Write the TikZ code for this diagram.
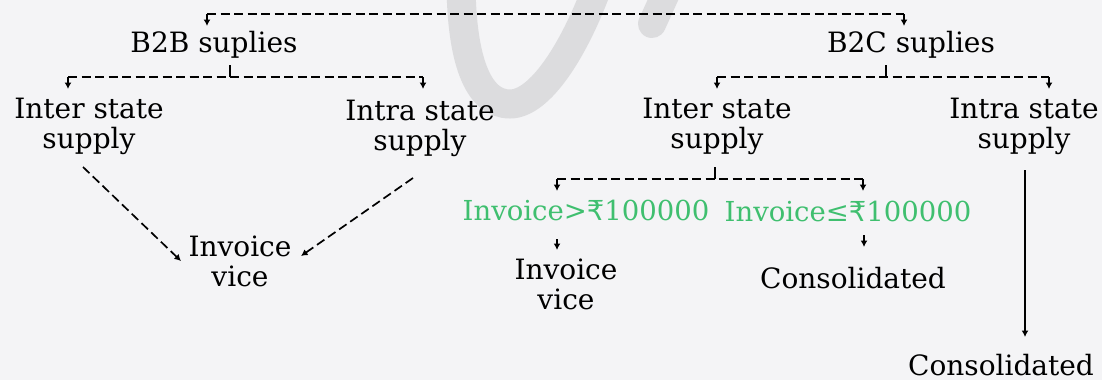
\documentclass[tikz,border=0pt]{standalone}
\usepackage{fontspec}
\setmainfont{DejaVu Serif}
\newfontfamily\rupeefont{DejaVu Sans}
\usetikzlibrary{arrows.meta}
\definecolor{bgc}{HTML}{F4F4F6}
\definecolor{grn}{HTML}{3FBF6F}
\definecolor{wmk}{HTML}{DCDCDE}
\newcommand{\rsym}{{\rupeefont ₹}}
\begin{document}
\begin{tikzpicture}[x=1pt,y=-1pt,
  lbl/.style={font=\fontsize{28}{30}\selectfont, inner sep=0pt, align=center, anchor=base},
  glbl/.style={lbl, font=\fontsize{27.5}{30}\selectfont, text=grn},
  dl/.style={line width=1.7pt, dash pattern=on 9pt off 4.5pt},
  sl/.style={line width=1.7pt},
  tip/.style={-{Latex[length=6.5pt,width=7pt]}}]
\useasboundingbox (0,0) rectangle (1102,380);
\fill[bgc] (0,0) rectangle (1102,380);
% watermark
\draw[wmk, line width=29pt, line cap=round] (461,-20) .. controls (461,60) and (478,104) .. (510,104) .. controls (540,104) and (575,50) .. (600,-20);
\draw[wmk, line width=28pt, line cap=round] (672,-20) -- (652,24);
% nodes (multi-line nodes are placed at the baseline of their last line)
\node[lbl] (b2b) at (214,52) {B2B suplies};
\node[lbl] (b2c) at (911,52) {B2C suplies};
\node[lbl] (li) at (89,148) {Inter state\\supply};
\node[lbl] (la) at (420,150) {Intra state\\supply};
\node[lbl] (ri) at (717,148) {Inter state\\supply};
\node[lbl] (ra) at (1024,148) {Intra state\\supply};
\node[lbl] (lv) at (240,286) {Invoice\\vice};
\node[glbl] (g1) at (586,220) {Invoice>\rsym100000};
\node[glbl] (g2) at (848,221) {Invoice≤\rsym100000};
\node[lbl] (rv) at (566,309) {Invoice\\vice};
\node[lbl] (c1) at (853,288) {Consolidated};
\node[lbl] (c2) at (1001,375) {Consolidated};
% coordinates
\coordinate (tL) at (207,14); \coordinate (tR) at (904,14);
\coordinate (tLa) at (207,26); \coordinate (tRa) at (904,26);
\coordinate (s1a) at (230,65); \coordinate (s1b) at (230,77);
\coordinate (h1L) at (68,77); \coordinate (h1R) at (423,77);
\coordinate (h1La) at (68,89); \coordinate (h1Ra) at (423,89);
\coordinate (s2a) at (886,65); \coordinate (s2b) at (886,77);
\coordinate (h2L) at (717,77); \coordinate (h2R) at (1049,77);
\coordinate (h2La) at (717,89); \coordinate (h2Ra) at (1049,89);
\coordinate (s3a) at (715,167); \coordinate (s3b) at (715,179);
\coordinate (h3L) at (557,179); \coordinate (h3R) at (863,179);
\coordinate (h3La) at (557,191); \coordinate (h3Ra) at (863,191);
\coordinate (g1a) at (557,239); \coordinate (g1b) at (557,250);
\coordinate (g2a) at (864,235); \coordinate (g2b) at (864,247);
\coordinate (d1a) at (83,167); \coordinate (d1b) at (181,261);
\coordinate (d2a) at (413,178); \coordinate (d2b) at (301,256);
\coordinate (v1a) at (1025,170); \coordinate (v1b) at (1025,337);
% connectors
\draw[dl] (tL) -- (tR);
\draw[sl,tip] (tL) -- (tLa);
\draw[sl,tip] (tR) -- (tRa);
\draw[sl] (s1a) -- (s1b);
\draw[dl] (h1L) -- (h1R);
\draw[sl,tip] (h1L) -- (h1La);
\draw[sl,tip] (h1R) -- (h1Ra);
\draw[sl] (s2a) -- (s2b);
\draw[dl] (h2L) -- (h2R);
\draw[sl,tip] (h2L) -- (h2La);
\draw[sl,tip] (h2R) -- (h2Ra);
\draw[sl] (s3a) -- (s3b);
\draw[dl] (h3L) -- (h3R);
\draw[sl,tip] (h3L) -- (h3La);
\draw[sl,tip] (h3R) -- (h3Ra);
\draw[sl,tip] (g1a) -- (g1b);
\draw[sl,tip] (g2a) -- (g2b);
\draw[dl,tip] (d1a) -- (d1b);
\draw[dl,tip] (d2a) -- (d2b);
\draw[sl,tip] (v1a) -- (v1b);
\end{tikzpicture}
\end{document}
